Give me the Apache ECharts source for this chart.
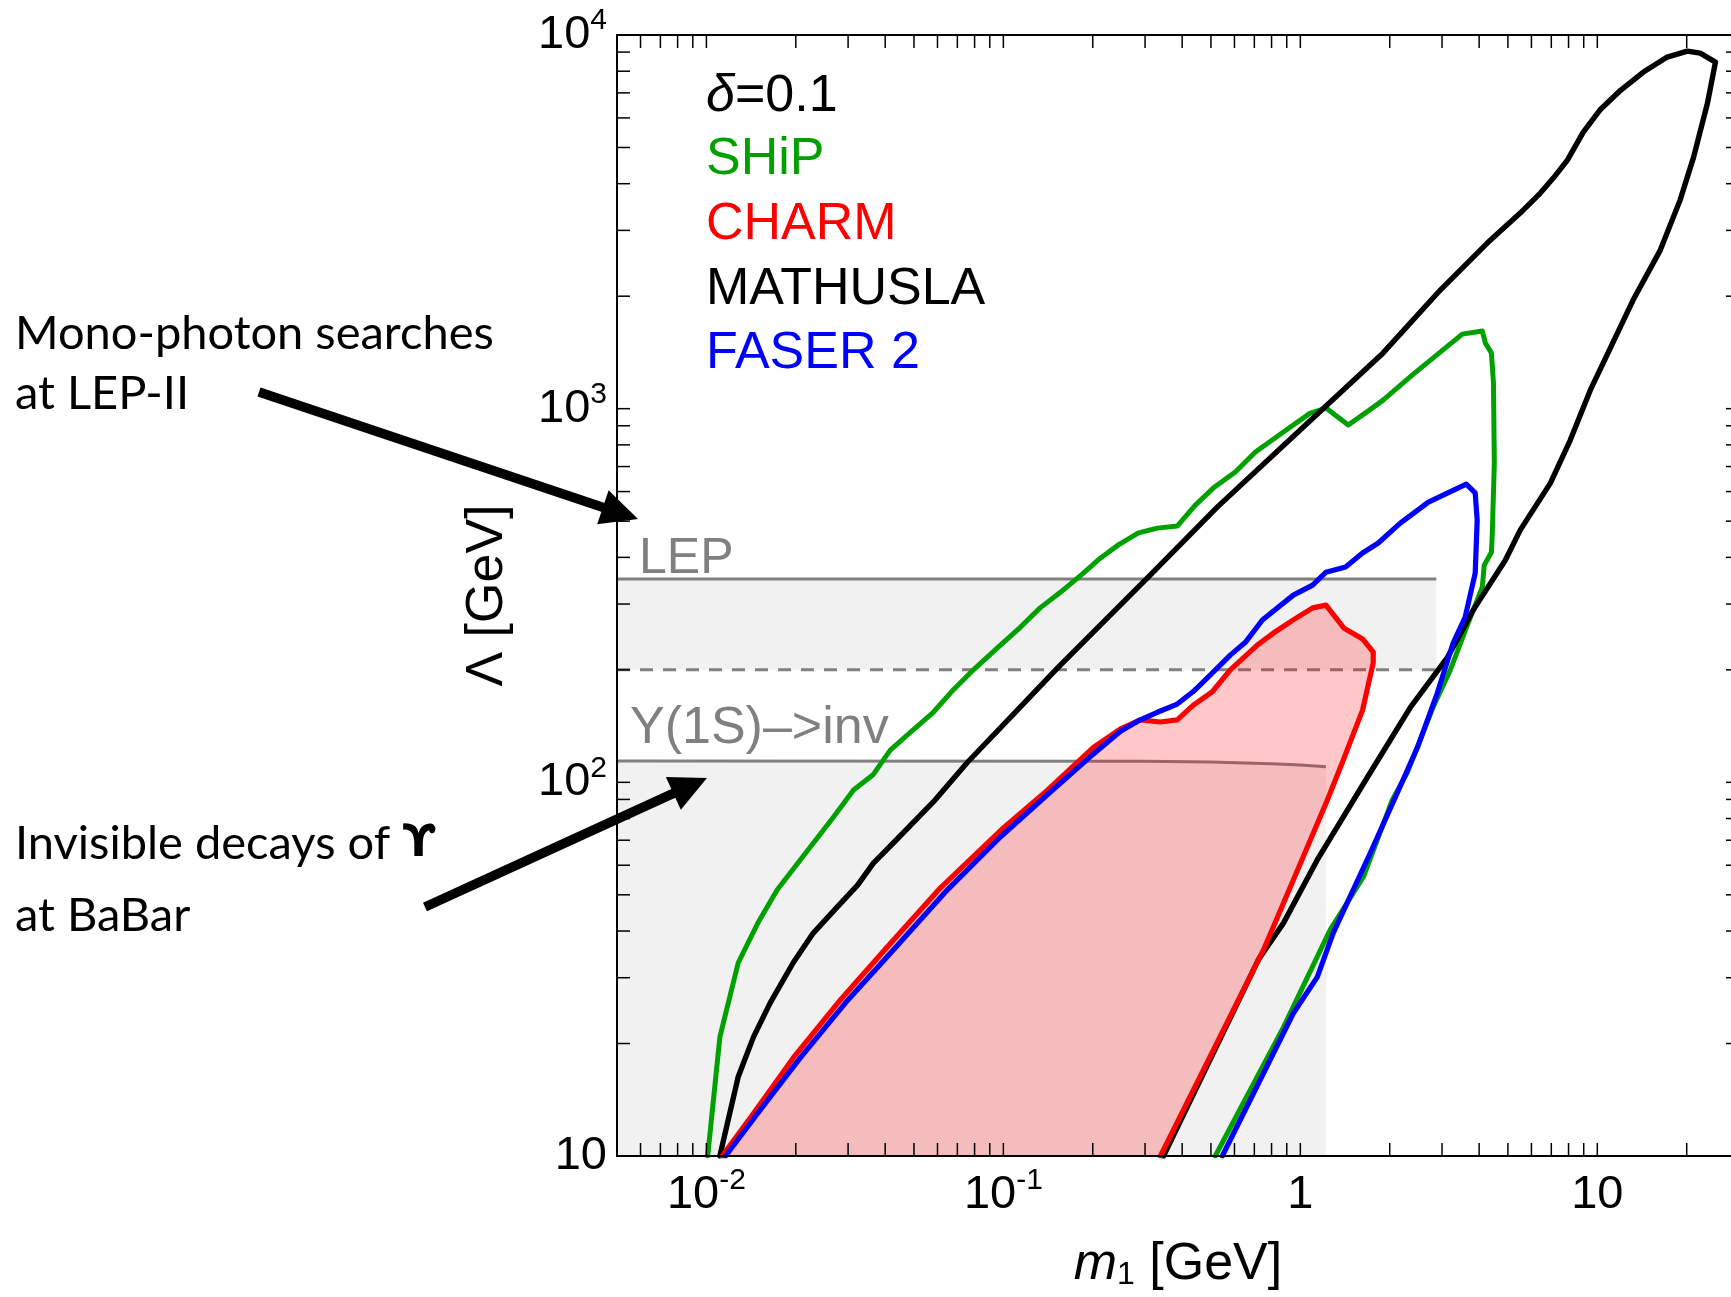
<!DOCTYPE html>
<html>
<head>
<meta charset="utf-8">
<script src="https://cdn.jsdelivr.net/npm/echarts@6/dist/echarts.min.js"></script>
<style>
  html, body { margin: 0; padding: 0; background: #ffffff; }
  #chart { width: 1731px; height: 1297px; }
</style>
</head>
<body>
<div id="chart"></div>
<script>
// ---------------- axis ranges and ticks ----------------
const M_MIN = 0.005, M_MAX = 30;          // m1 [GeV]
const L_MIN = 10, L_MAX = 10000;          // Lambda [GeV]

const massTicks = [0.006, 0.007, 0.008, 0.009, 0.01, 0.02, 0.03, 0.04, 0.05, 0.06, 0.07, 0.08, 0.09,
                   0.1, 0.2, 0.3, 0.4, 0.5, 0.6, 0.7, 0.8, 0.9, 1, 2, 3, 4, 5, 6, 7, 8, 9, 10, 20];
const lambdaTicks = [20, 30, 40, 50, 60, 70, 80, 90, 100, 200, 300, 400, 500, 600, 700, 800, 900,
                     1000, 2000, 3000, 4000, 5000, 6000, 7000, 8000, 9000];
const massMajor = [0.01, 0.1, 1, 10];
const massMajorText = ['10^-2', '10^-1', '1', '10'];
const lambdaMajor = [10, 100, 1000, 10000];
const lambdaMajorText = ['10', '10^2', '10^3', '10^4'];

// ---------------- experimental bounds ----------------
const lepBandM = [0.005, 2.87];
const lepBandL = [200, 350];          // dashed lower edge, solid upper edge
const upsilonM = [0.005, 0.3, 0.5, 0.8, 1.0, 1.22];
const upsilonL = [114, 113.9, 113.4, 112.2, 111.2, 110];

// ---------------- sensitivity contours (delta = 0.1) ----------------
const shipM = [0.0101, 0.0111, 0.0128, 0.0149, 0.0173, 0.0207, 0.0268, 0.0313, 0.0365, 0.0416, 0.0486,
               0.0581, 0.0679, 0.0793, 0.0955, 0.114, 0.133, 0.156, 0.186, 0.212, 0.244, 0.285, 0.330,
               0.385, 0.443, 0.509, 0.604, 0.706, 0.926, 1.08, 1.22, 1.45, 1.69, 1.90, 2.38, 2.96, 3.51,
               4.10, 4.20, 4.40, 4.47, 4.50, 4.43, 4.40, 4.16, 4.10, 3.74, 3.20, 2.80, 2.29, 2.04, 1.63,
               1.26, 0.877, 0.517];
const shipL = [10, 20.8, 32.9, 42.0, 51.5, 62.0, 80.8, 95.4, 105, 122, 136,
               154, 177, 200, 229, 260, 293, 323, 363, 398, 432, 465, 479,
               485, 552, 613, 677, 766, 893, 973, 1004, 904, 985, 1054, 1230, 1417, 1583,
               1613, 1498, 1409, 1171, 715, 465, 413, 381, 333, 277, 200, 159, 106, 89.7, 55.8,
               40.3, 22.1, 10];

const charmM = [0.0113, 0.0144, 0.0196, 0.0283, 0.0407, 0.0614, 0.100, 0.141, 0.201, 0.248, 0.289,
                0.338, 0.385, 0.436, 0.506, 0.581, 0.716, 0.824, 0.947, 1.10, 1.22, 1.40, 1.62, 1.76,
                1.76, 1.62, 1.385, 1.233, 1.106, 0.830, 0.751, 0.338];
const charmL = [10, 13.0, 18.3, 26.2, 36.3, 52.2, 75.5, 95.4, 124, 139, 147,
                145, 147, 161, 175, 200, 233, 253, 272, 293, 298, 259, 242, 223,
                209, 156, 113, 89.7, 73.2, 42.8, 35.6, 10];

const mathuslaM = [0.0111, 0.0128, 0.0144, 0.0164, 0.0196, 0.0229, 0.0276, 0.0323, 0.0365, 0.0426,
                   0.0581, 0.0756, 0.120, 0.152, 0.305, 0.526, 1.20, 1.90, 2.96, 4.26, 5.50, 6.43,
                   7.11, 7.93, 8.97, 10.2, 12.0, 14.3, 17.2, 20.1, 22.2, 25.0, 23.5, 21.1, 19.0,
                   16.3, 13.2, 11.1, 9.47, 8.11, 6.95, 5.50, 4.90, 3.82, 3.13, 2.35, 1.68, 1.14,
                   0.877, 0.722, 0.346];
const mathuslaL = [10, 16.3, 20.8, 25.7, 32.9, 39.5, 46.4, 53.1, 60.8, 68.8,
                   88.6, 113, 166, 202, 352, 546, 1004, 1410, 2077, 2774, 3337, 3775,
                   4141, 4627, 5498, 6298, 7122, 7958, 8729, 9056, 8945, 8463, 6575, 4713, 3615,
                   2657, 1953, 1461, 1121, 824, 632, 473, 393, 289, 216, 159, 103, 62.0,
                   42.0, 33.5, 10];

const faserM = [0.0116, 0.0152, 0.0207, 0.0294, 0.0426, 0.0638, 0.0977, 0.144, 0.196, 0.248, 0.289,
                0.330, 0.385, 0.436, 0.498, 0.581, 0.653, 0.745, 0.947, 1.10, 1.22, 1.42, 1.62,
                1.83, 2.17, 2.70, 3.62, 3.88, 3.94, 3.88, 3.59, 3.27, 2.89, 2.48, 2.12, 1.72,
                1.29, 1.14, 0.947, 0.546];
const faserL = [10, 13.3, 18.3, 25.7, 35.6, 50.9, 71.4, 94.2, 117, 137, 147,
                154, 162, 175, 194, 219, 237, 272, 317, 337, 365, 377, 411,
                437, 494, 562, 628, 595, 503, 363, 277, 236, 173, 124, 93.6, 64.7,
                39.5, 30.1, 24.1, 10];

// ---------------- styling ----------------
const GREEN = '#00a000', RED = '#ff0000', BLUE = '#0000ff', BLACK = '#000000', GREY = '#808080';
const BAND = '#f1f1f1';
const FONT = '"Liberation Sans", Arial, Helvetica, sans-serif';
const NOTE_FONT = 'Lato, "Open Sans", sans-serif';
const TICK_LEN = 13;

function pairs(xs, ys) { return xs.map((x, i) => [x, ys[i]]); }

function toRich(t) {
  const k = t.indexOf('^');
  return k < 0 ? '{b|' + t + '}' : '{b|' + t.slice(0, k) + '}{s|' + t.slice(k + 1) + '}';
}
function labelFor(v, majors, texts) {
  const lv = Math.log10(v);
  for (let i = 0; i < majors.length; i++) {
    if (Math.abs(lv - Math.log10(majors[i])) < 1e-6) return toRich(texts[i]);
  }
  return '';
}
const tickRich = {
  b: { fontSize: 47, lineHeight: 58, fontFamily: FONT, color: '#000' },
  s: { fontSize: 30, lineHeight: 34, verticalAlign: 'top', fontFamily: FONT, color: '#000' }
};

// closed filled region built from data through the axis scales
function regionSeries(xs, ys, fill, z) {
  const pts = pairs(xs, ys);
  return {
    type: 'custom', z: z, silent: true, clip: true,
    encode: { x: 0, y: 1 },
    data: pts,
    renderItem(params, api) {
      if (params.dataIndex !== 0) return null;
      return { type: 'polygon', shape: { points: pts.map(p => api.coord(p)) }, style: { fill: fill } };
    }
  };
}

// inward ticks on all four sides of the frame
function tickSeries(values, horizontal) {
  return {
    type: 'custom', z: 20, silent: true,
    encode: { x: 0, y: 1 },
    data: values.map(v => horizontal ? [v, L_MIN] : [M_MIN, v]),
    renderItem(params, api) {
      let segs;
      if (horizontal) {
        const v = api.value(0);
        const a = api.coord([v, L_MIN]), b = api.coord([v, L_MAX]);
        segs = [[a[0], a[1], a[0], a[1] - TICK_LEN], [b[0], b[1], b[0], b[1] + TICK_LEN]];
      } else {
        const v = api.value(1);
        const a = api.coord([M_MIN, v]), b = api.coord([M_MAX, v]);
        segs = [[a[0], a[1], a[0] + TICK_LEN, a[1]], [b[0], b[1], b[0] - TICK_LEN, b[1]]];
      }
      return {
        type: 'group',
        children: segs.map(s => ({
          type: 'line',
          shape: { x1: s[0], y1: s[1], x2: s[2], y2: s[3] },
          style: { stroke: '#000', lineWidth: 1.5 }
        }))
      };
    }
  };
}

function curve(name, xs, ys, color, width, z) {
  return {
    type: 'line', name: name, data: pairs(xs, ys), z: z,
    showSymbol: false, symbol: 'none', silent: true, clip: true,
    emphasis: { disabled: true },
    lineStyle: { color: color, width: width, join: 'round', cap: 'round' }
  };
}

function greyLine(xs, ys, dashed) {
  return {
    type: 'line', data: pairs(xs, ys), z: 3,
    showSymbol: false, symbol: 'none', silent: true,
    emphasis: { disabled: true },
    lineStyle: { color: GREY, width: 3, type: dashed ? [13, 10] : 'solid' }
  };
}

function arrow(x0, y0, x1, y1) {
  const dx = x1 - x0, dy = y1 - y0, len = Math.hypot(dx, dy);
  const ux = dx / len, uy = dy / len, hl = 37, hw = 18;
  const bx = x1 - ux * hl, by = y1 - uy * hl;
  return [
    { type: 'line', z: 50, shape: { x1: x0, y1: y0, x2: bx + ux * 6, y2: by + uy * 6 },
      style: { stroke: '#000', lineWidth: 9.5 } },
    { type: 'polygon', z: 50,
      shape: { points: [[x1, y1], [bx - uy * hw, by + ux * hw], [bx + uy * hw, by - ux * hw]] },
      style: { fill: '#000' } }
  ];
}

function text(x, y, str, size, color, family, extra) {
  return {
    type: 'text', x: x, y: y, z: 50,
    style: Object.assign({
      text: str, fontSize: size, fontFamily: family || FONT, fill: color,
      align: 'left', verticalAlign: 'middle'
    }, extra || {})
  };
}

const chart = echarts.init(document.getElementById('chart'), null, { renderer: 'canvas' });

const option = {
  animation: false,
  backgroundColor: '#ffffff',
  grid: {
    left: 617, top: 35, right: -8, bottom: 141,
    show: true, borderColor: '#000', borderWidth: 2, backgroundColor: 'transparent',
    containLabel: false, outerBoundsMode: 'none'
  },
  xAxis: {
    type: 'log', logBase: 10, min: M_MIN, max: M_MAX, z: 10,
    axisLine: { show: true, lineStyle: { color: '#000', width: 2 } },
    axisTick: { show: false }, minorTick: { show: false }, splitLine: { show: false },
    axisLabel: {
      margin: 10, color: '#000',
      formatter: v => labelFor(v, massMajor, massMajorText),
      rich: tickRich
    },
    name: '{i|m}{s|1}{n| [GeV]}',
    nameLocation: 'middle', nameGap: 83, nameMoveOverlap: false,
    nameTextStyle: {
      color: '#000',
      rich: {
        i: { fontSize: 52, lineHeight: 52, fontStyle: 'italic', fontFamily: FONT, color: '#000' },
        s: { fontSize: 32, lineHeight: 20, verticalAlign: 'bottom', fontFamily: FONT, color: '#000' },
        n: { fontSize: 52, lineHeight: 52, fontFamily: FONT, color: '#000' }
      }
    }
  },
  yAxis: {
    type: 'log', logBase: 10, min: L_MIN, max: L_MAX, z: 10,
    axisLine: { show: true, lineStyle: { color: '#000', width: 2 } },
    axisTick: { show: false }, minorTick: { show: false }, splitLine: { show: false },
    axisLabel: {
      margin: 10, color: '#000',
      formatter: v => labelFor(v, lambdaMajor, lambdaMajorText),
      rich: tickRich
    },
    name: 'Λ [GeV]',
    nameLocation: 'middle', nameRotate: 90, nameGap: 103, nameMoveOverlap: false,
    nameTextStyle: { fontSize: 52, fontFamily: FONT, color: '#000' }
  },
  series: [
    regionSeries([lepBandM[0], lepBandM[1], lepBandM[1], lepBandM[0]],
                 [lepBandL[0], lepBandL[0], lepBandL[1], lepBandL[1]], BAND, 1),
    regionSeries(upsilonM.concat([upsilonM[upsilonM.length - 1], upsilonM[0]]),
                 upsilonL.concat([L_MIN, L_MIN]), BAND, 1),
    greyLine(lepBandM, [lepBandL[1], lepBandL[1]], false),
    greyLine(lepBandM, [lepBandL[0], lepBandL[0]], true),
    greyLine(upsilonM, upsilonL, false),
    regionSeries(charmM, charmL, 'rgba(255,0,0,0.22)', 4),
    curve('SHiP', shipM, shipL, GREEN, 5, 5),
    curve('MATHUSLA', mathuslaM, mathuslaL, BLACK, 5.4, 5),
    curve('CHARM', charmM, charmL, RED, 5.2, 5),
    curve('FASER 2', faserM, faserL, BLUE, 5.2, 5),
    tickSeries(massTicks, true),
    tickSeries(lambdaTicks, false)
  ],
  graphic: [
    text(706, 97, '{d|δ}=0.1', 52, BLACK, FONT, {
      rich: { d: { fontSize: 52, fontStyle: 'italic', fontFamily: FONT, fill: BLACK } }
    }),
    text(706, 160, 'SHiP', 52, GREEN),
    text(706, 225, 'CHARM', 52, RED),
    text(706, 290, 'MATHUSLA', 52, BLACK),
    text(706, 354, 'FASER 2', 52, BLUE),
    text(639, 559, 'LEP', 50, GREY),
    text(630, 729, 'Υ(1S)–>inv', 52, GREY),
    text(15, 334, 'Mono-photon searches', 47, BLACK, NOTE_FONT),
    text(15, 394, 'at LEP-II', 47, BLACK, NOTE_FONT),
    text(15, 844, '{n|Invisible decays of }{u|ϒ}', 47, BLACK, NOTE_FONT, {
      rich: {
        n: { fontSize: 47, fontFamily: NOTE_FONT, fill: BLACK },
        u: { fontSize: 45, fontWeight: 'bold', fontFamily: '"DejaVu Sans", sans-serif', fill: BLACK }
      }
    }),
    text(15, 916, 'at BaBar', 47, BLACK, NOTE_FONT)
  ].concat(arrow(259, 392, 638, 519), arrow(425, 907, 707, 778))
};

chart.setOption(option);
</script>
</body>
</html>
